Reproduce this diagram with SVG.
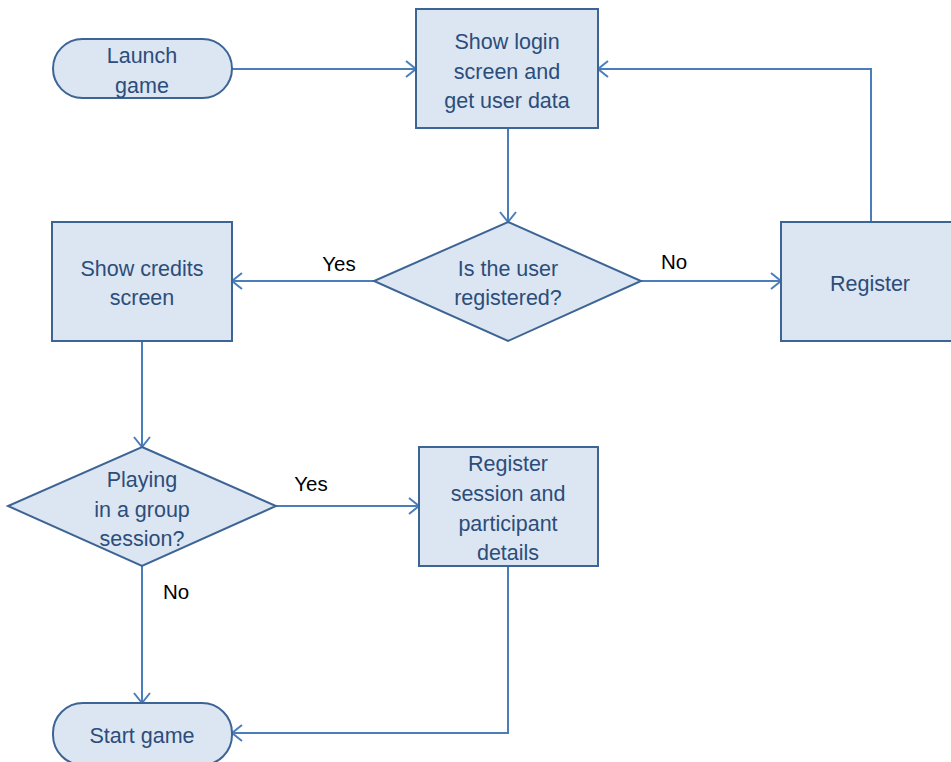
<svg xmlns="http://www.w3.org/2000/svg" width="951" height="762" viewBox="0 0 951 762">
<defs>
<marker id="arr" viewBox="0 0 12 18" refX="11" refY="9" markerWidth="12" markerHeight="18" markerUnits="userSpaceOnUse" orient="auto">
<path d="M1,1 L11,9 L1,17" fill="none" stroke="#4a7ebb" stroke-width="2"/>
</marker>
<style>
.n{fill:#dce6f2;stroke:#3c6494;stroke-width:2}
.t{font-family:"Liberation Sans",Arial,sans-serif;font-size:21.5px;fill:#2c4d7a;text-anchor:middle}
.l{font-family:"Liberation Sans",Arial,sans-serif;font-size:20.5px;fill:#000;text-anchor:middle}
.c{fill:none;stroke:#4a7ebb;stroke-width:2;marker-end:url(#arr)}
</style>
</defs>
<rect width="951" height="762" fill="#fff"/>
<g id="connectors">
<path class="c" d="M232,69 H416"/>
<path class="c" d="M871,222 V69 H598"/>
<path class="c" d="M508,128 V222"/>
<path class="c" d="M374,281 H232"/>
<path class="c" d="M641,281 H781"/>
<path class="c" d="M142,341 V447"/>
<path class="c" d="M276,506 H419"/>
<path class="c" d="M142,566 V703"/>
<path class="c" d="M508,566 V733 H232"/>
<text class="l" x="339" y="271">Yes</text>
<text class="l" x="674" y="269">No</text>
<text class="l" x="311" y="491">Yes</text>
<text class="l" x="176" y="599">No</text>
</g>
<g id="launch">
<rect class="n" x="53" y="39" width="179" height="59" rx="29.5"/>
<text class="t" x="142" y="63">Launch</text>
<text class="t" x="142" y="93">game</text>
</g>
<g id="login">
<rect class="n" x="416" y="9" width="182" height="119"/>
<text class="t" x="507" y="49">Show login</text>
<text class="t" x="507" y="79">screen and</text>
<text class="t" x="507" y="108">get user data</text>
</g>
<g id="registered">
<polygon class="n" points="508,222 641,281 508,341 374,281"/>
<text class="t" x="508" y="276">Is the user</text>
<text class="t" x="508" y="305">registered?</text>
</g>
<g id="register">
<rect class="n" x="781" y="222" width="172" height="119"/>
<text class="t" x="870" y="291">Register</text>
</g>
<g id="credits">
<rect class="n" x="52" y="222" width="180" height="119"/>
<text class="t" x="142" y="276">Show credits</text>
<text class="t" x="142" y="305">screen</text>
</g>
<g id="group">
<polygon class="n" points="142,447 276,506 142,566 8,506"/>
<text class="t" x="142" y="487">Playing</text>
<text class="t" x="142" y="517">in a group</text>
<text class="t" x="142" y="546">session?</text>
</g>
<g id="session">
<rect class="n" x="419" y="447" width="179" height="119"/>
<text class="t" x="508" y="471">Register</text>
<text class="t" x="508" y="501">session and</text>
<text class="t" x="508" y="531">participant</text>
<text class="t" x="508" y="560">details</text>
</g>
<g id="start">
<rect class="n" x="53" y="703" width="179" height="62" rx="30"/>
<text class="t" x="142" y="743">Start game</text>
</g>
</svg>
